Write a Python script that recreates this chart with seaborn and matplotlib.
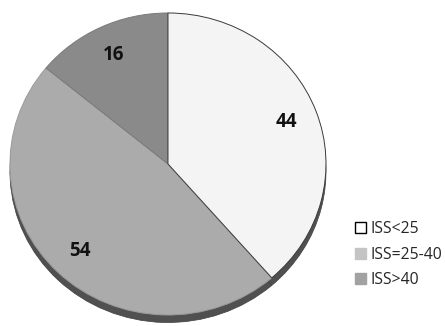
import matplotlib
matplotlib.use("Agg")
import matplotlib.pyplot as plt
import seaborn as sns
from matplotlib.patches import Patch

# data
labels = ["ISS<25", "ISS=25-40", "ISS>40"]
counts = [44, 54, 16]
colors = ["#f4f4f4", "#ababab", "#8a8a8a"]
legend_colors = ["#ffffff", "#c4c4c4", "#a2a2a2"]

sns.set_theme(style="white")
plt.rcParams["font.family"] = ["Open Sans", "DejaVu Sans"]

fig = plt.figure(figsize=(4.45, 3.26), dpi=100)
ax = fig.add_axes([0, 0, 1, 1])
total = sum(counts)

# shadow rim (same pie, shifted down)
ax.pie(counts, colors=["#505050"] * 3, startangle=90, counterclock=False,
       center=(0, -0.05), wedgeprops=dict(edgecolor="#404040", linewidth=0.5))

# main pie
wedges, texts, autotexts = ax.pie(
    counts, colors=colors, startangle=90, counterclock=False,
    autopct=lambda p: f"{round(p * total / 100):d}", pctdistance=0.8,
    wedgeprops=dict(edgecolor="#3a3a3a", linewidth=0.7),
    textprops=dict(fontsize=13.5, fontweight="bold", color="#111111"),
)
wedges[1].set_edgecolor("#9a9a9a")
wedges[2].set_edgecolor("#7a7a7a")
wedges[0].set_zorder(3)

ax.set_aspect("auto")
ax.set_xlim(-1.063, 1.753)
ax.set_ylim(-1.073, 1.086)
ax.axis("off")

handles = [Patch(facecolor=c, edgecolor="black" if i == 0 else c, linewidth=1.0)
           for i, c in enumerate(legend_colors)]
fig.legend(handles, labels, loc="upper left", bbox_to_anchor=(0.78, 0.345),
           frameon=False, fontsize=11.3, handlelength=0.7, handleheight=0.7,
           handletextpad=0.3, labelspacing=0.6, borderpad=0)

fig.savefig("out.png", dpi=100)
